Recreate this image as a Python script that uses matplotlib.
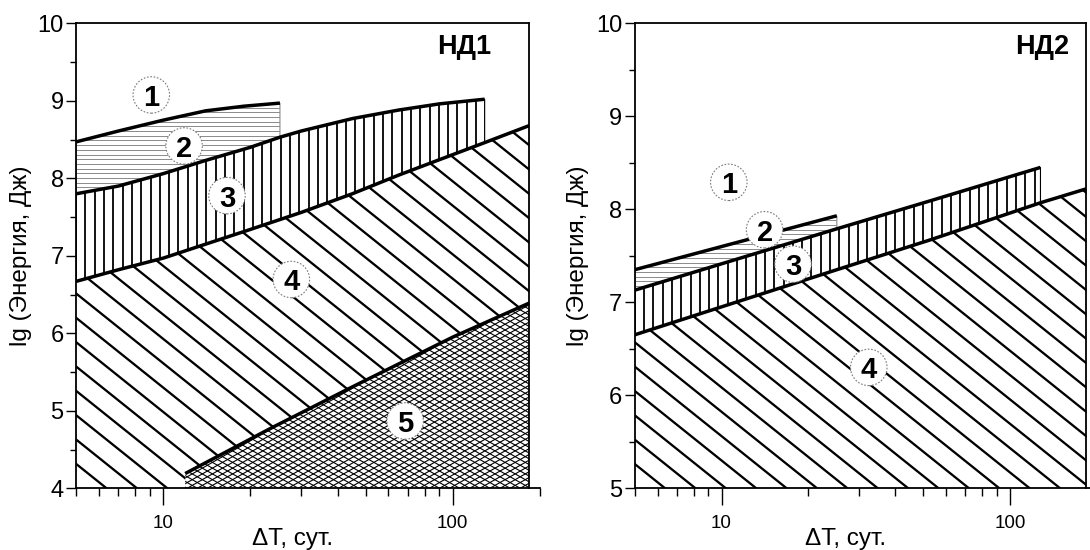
import numpy as np
import matplotlib
matplotlib.use("Agg")
import matplotlib.pyplot as plt
from matplotlib.collections import LineCollection
from matplotlib.ticker import FixedLocator, NullFormatter, FixedFormatter

plt.rcParams['font.family'] = ['Liberation Sans', 'DejaVu Sans']

# ---------------- data ----------------
# Panel НД1
L_c1_x = [5, 7, 10, 14, 19, 25.3]
L_c1_y = [8.47, 8.61, 8.75, 8.87, 8.93, 8.97]
L_c2_x = [5, 7, 10, 14, 20, 25.3, 30, 45, 65, 90, 129]
L_c2_y = [7.80, 7.90, 8.06, 8.23, 8.40, 8.53, 8.61, 8.77, 8.88, 8.96, 9.02]
L_c3_x = [5, 7, 10, 14, 20, 30, 45, 65, 90, 129, 184]
L_c3_y = [6.67, 6.82, 6.97, 7.15, 7.34, 7.56, 7.80, 8.04, 8.24, 8.46, 8.68]
L_c4_x = [11.9, 23.4, 44, 100, 184]
L_c4_y = [4.19, 4.77, 5.29, 5.95, 6.39]
L_lab = ['1', '2', '3', '4', '5']
L_lab_x = [9.09, 11.8, 16.6, 27.7, 68.5]
L_lab_y = [9.075, 8.417, 7.776, 6.694, 4.868]

# Panel НД2
R_c1_x = [5, 25.1]
R_c1_y = [7.35, 7.93]
R_c2_x = [5, 25.1, 52.8, 127.6]
R_c2_y = [7.13, 7.79, 8.09, 8.45]
R_c3_x = [5, 25.1, 52.8, 127.6, 184]
R_c3_y = [6.65, 7.35, 7.67, 8.07, 8.22]
R_lab = ['1', '2', '3', '4']
R_lab_x = [10.6, 14.1, 17.7, 32.4]
R_lab_y = [8.29, 7.78, 7.41, 6.30]

XMIN, XMAX, XFRAME = 5, 200, 184
x_major = [10, 100]
x_major_lab = ['10', '100']
x_minor = [5, 6, 7, 8, 9, 20, 30, 40, 50, 60, 70, 80, 90, 200]

fig = plt.figure(figsize=(10.9, 5.5), dpi=100)
axL = fig.add_axes([0.0699, 0.1122, 0.4253, 0.8455])
axR = fig.add_axes([0.5823, 0.1122, 0.4239, 0.8455])


def band(tx, ty, bx, by):
    xmax = tx[-1]
    sel = [(x, y) for x, y in zip(bx, by) if x <= xmax + 1e-9]
    px = list(tx) + [p[0] for p in sel][::-1]
    py = list(ty) + [p[1] for p in sel][::-1]
    return px, py


def hatch(ax, poly, angle, spacing, lw, color, z=2):
    pos = ax.get_position()
    W = pos.width * fig.get_figwidth() * fig.dpi
    H = pos.height * fig.get_figheight() * fig.dpi
    th = np.radians(angle)
    d = np.array([np.cos(th), np.sin(th)])
    n = np.array([-np.sin(th), np.cos(th)])
    corners = np.array([[0, 0], [W, 0], [0, H], [W, H]])
    proj = corners @ n
    cs = np.arange(np.floor(proj.min() / spacing) * spacing, proj.max() + spacing, spacing)
    L = W + H
    segs = []
    for c in cs:
        p0 = c * n - L * d
        p1 = c * n + L * d
        segs.append([(p0[0] / W, p0[1] / H), (p1[0] / W, p1[1] / H)])
    lc = LineCollection(segs, transform=ax.transAxes, colors=color,
                        linewidths=lw, zorder=z, capstyle='butt')
    ax.add_collection(lc, autolim=False)
    lc.set_clip_path(poly)


def setup(ax, ymin, title, tx, xl_x, yl_x):
    ax.set_xscale('log')
    ax.set_xlim(XMIN, XMAX)
    ax.set_ylim(ymin, 10)
    ax.xaxis.set_major_locator(FixedLocator(x_major))
    ax.xaxis.set_major_formatter(FixedFormatter(x_major_lab))
    ax.xaxis.set_minor_locator(FixedLocator(x_minor))
    ax.xaxis.set_minor_formatter(NullFormatter())
    ax.yaxis.set_major_locator(FixedLocator(np.arange(ymin, 11, 1)))
    ax.yaxis.set_minor_locator(FixedLocator(np.arange(ymin + 0.5, 10, 1)))
    ax.tick_params(axis='x', which='major', direction='out', length=12, width=1.0,
                   labelsize=13.5, pad=7)
    ax.tick_params(axis='x', which='minor', direction='out', length=6, width=1.0)
    ax.tick_params(axis='y', which='major', direction='out', length=7, width=1.0,
                   labelsize=17, pad=2)
    ax.tick_params(axis='y', which='minor', direction='out', length=4.5, width=1.0)
    ax.tick_params(top=False, right=False, which='both')
    for s in ax.spines.values():
        s.set_linewidth(1.3)
    ax.spines['top'].set_bounds(XMIN, XFRAME)
    ax.spines['right'].set_position(('data', XFRAME))
    ax.set_xlabel('ΔT, сут.', fontsize=17.5)
    ax.set_ylabel('lg (Энергия, Дж)', fontsize=17.5)
    ax.xaxis.set_label_coords(xl_x, -0.085)
    ax.yaxis.set_label_coords(yl_x, 0.5)
    ax.text(tx, 0.949, title, transform=ax.transAxes, ha='right', va='center',
            fontsize=19.5, fontweight='bold', zorder=8)


def labels(ax, names, xs, ys):
    ax.scatter(xs, ys, s=690, marker='o', facecolors='white', edgecolors='#7a7a7a',
               linewidths=0.8, linestyles=(0, (1.5, 1.5)), zorder=6)
    for t, x, y in zip(names, xs, ys):
        ax.text(x, y, t, ha='center', va='center_baseline', fontsize=21,
                fontweight='bold', zorder=7)


THICK = 2.5

# ---------------- left panel ----------------
ax = axL
setup(ax, 4, 'НД1', 0.895, 0.466, -0.095)
px, py = band(L_c1_x, L_c1_y, L_c2_x, L_c2_y)
z2 = ax.fill(px, py, facecolor='none', edgecolor='#8a8a8a', linewidth=0.8, zorder=2)[0]
hatch(ax, z2, 0, 4.7, 0.7, '#8a8a8a')
px, py = band(L_c2_x, L_c2_y, L_c3_x, L_c3_y)
z3 = ax.fill(px, py, facecolor='none', edgecolor='black', linewidth=0.8, zorder=2)[0]
hatch(ax, z3, 90, 9.3, 1.3, 'black')
px = list(L_c3_x) + list(L_c4_x)[::-1] + [L_c4_x[0], XMIN]
py = list(L_c3_y) + list(L_c4_y)[::-1] + [4, 4]
z4 = ax.fill(px, py, facecolor='none', edgecolor='none', linewidth=0, zorder=2)[0]
hatch(ax, z4, -38.7, 19, 1.65, 'black')
px = list(L_c4_x) + [L_c4_x[-1], L_c4_x[0]]
py = list(L_c4_y) + [4, 4]
z5 = ax.fill(px, py, facecolor='none', edgecolor='none', linewidth=0, zorder=2)[0]
hatch(ax, z5, 29.7, 5.0, 0.8, 'black')
hatch(ax, z5, -29.7, 5.0, 0.8, 'black')
for cx, cy in [(L_c1_x, L_c1_y), (L_c2_x, L_c2_y), (L_c3_x, L_c3_y), (L_c4_x, L_c4_y)]:
    ax.plot(cx, cy, color='black', lw=THICK, solid_capstyle='butt', zorder=4)
labels(ax, L_lab, L_lab_x, L_lab_y)

# ---------------- right panel ----------------
ax = axR
setup(ax, 5, 'НД2', 0.94, 0.457, -0.098)
px, py = band(R_c1_x, R_c1_y, R_c2_x, R_c2_y)
z2 = ax.fill(px, py, facecolor='none', edgecolor='#8a8a8a', linewidth=0.8, zorder=2)[0]
hatch(ax, z2, 0, 4.7, 0.7, '#8a8a8a')
px, py = band(R_c2_x, R_c2_y, R_c3_x, R_c3_y)
z3 = ax.fill(px, py, facecolor='none', edgecolor='black', linewidth=0.8, zorder=2)[0]
hatch(ax, z3, 90, 9.3, 1.3, 'black')
px = list(R_c3_x) + [R_c3_x[-1], XMIN]
py = list(R_c3_y) + [5, 5]
z4 = ax.fill(px, py, facecolor='none', edgecolor='none', linewidth=0, zorder=2)[0]
hatch(ax, z4, -38.7, 19, 1.65, 'black')
for cx, cy in [(R_c1_x, R_c1_y), (R_c2_x, R_c2_y), (R_c3_x, R_c3_y)]:
    ax.plot(cx, cy, color='black', lw=THICK, solid_capstyle='butt', zorder=4)
labels(ax, R_lab, R_lab_x, R_lab_y)

fig.savefig('out.png', dpi=100)
